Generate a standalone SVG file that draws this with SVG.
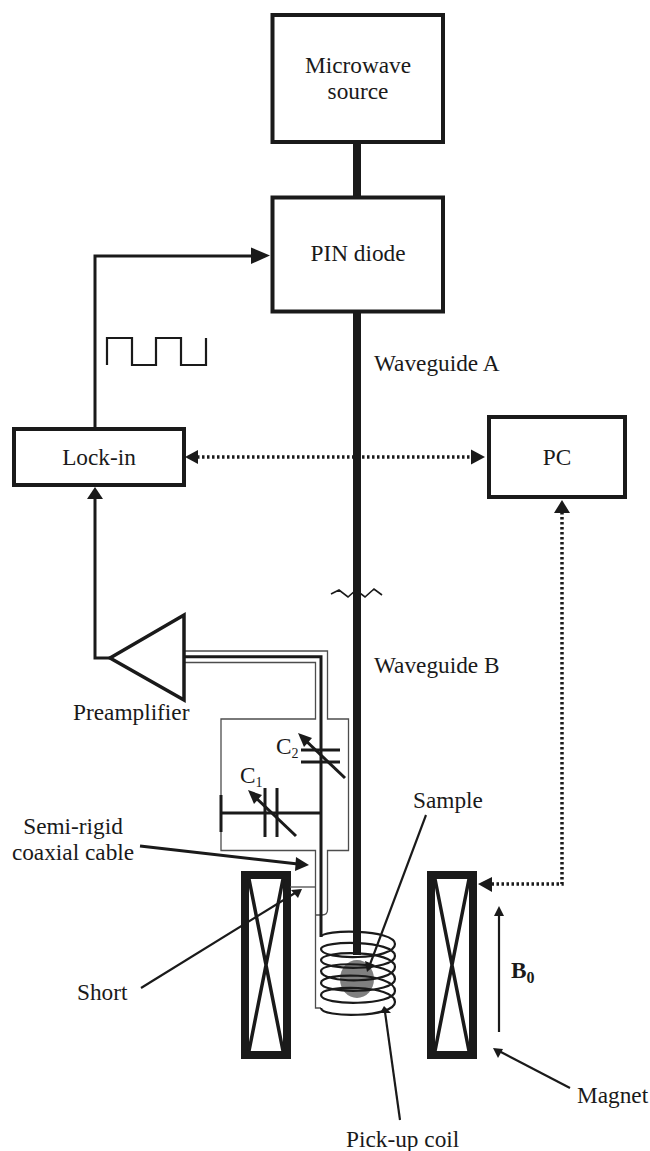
<svg xmlns="http://www.w3.org/2000/svg" width="650" height="1151" viewBox="0 0 650 1151">
<style>
text{font-family:"Liberation Serif","Times New Roman",serif;font-size:23.300px;fill:#1a1a1a}
.m{text-anchor:middle}
.box{fill:#fff;stroke:#1a1a1a;stroke-width:4}
.ln{fill:none;stroke:#1a1a1a;stroke-width:3}
.thin{fill:none;stroke:#4d4d4d;stroke-width:1.300}
.lead{fill:none;stroke:#1a1a1a;stroke-width:2.200}
.dot{fill:none;stroke:#1a1a1a;stroke-width:3.500;stroke-dasharray:2.500 2.500}
.mag{fill:#fff;stroke:#1a1a1a;stroke-width:8}
.x{fill:none;stroke:#1a1a1a;stroke-width:3.500}
.ah{fill:#1a1a1a}
</style>
<g id="magnet-left"><rect class="mag" x="245" y="875" width="42" height="180"/><path class="x" d="M249 879L283 1051M283 879L249 1051"/></g>
<g id="magnet-right"><rect class="mag" x="431" y="875" width="42" height="180"/><path class="x" d="M435 879L469 1051M469 879L435 1051"/></g>
<g id="sample"><ellipse cx="357" cy="979" rx="17" ry="19" fill="#808080"/><text x="413" y="808">Sample</text></g>
<g id="connectors">
<path class="ln" d="M95 428V256H255"/>
<polygon class="ah" points="270,255.500 251,247.500 251,264"/>
<path class="lead" d="M107 365V338H132V365H156V338H181V365H206V338"/>
<path class="ln" d="M95 498V658H110"/>
<polygon class="ah" points="95,487 87,499 103,499"/>
<path d="M357 143V198M357 312V955" fill="none" stroke="#1a1a1a" stroke-width="8"/>
<path fill="none" stroke="#1a1a1a" stroke-width="1.600" d="M331 594L339 590L348 597L356 590L365 597L374 589L382 595"/>
<path class="dot" d="M197 457H472"/>
<polygon class="ah" points="185,457 198,450 198,464"/>
<polygon class="ah" points="485,457 471,449.500 471,464.500"/>
<path class="dot" d="M562 512V884H491"/>
<polygon class="ah" points="562,500 554,513 570,513"/>
<polygon class="ah" points="478,884 492,877 492,892"/>
<path class="thin" d="M184 651H327.500V719H348.500V850.500H327.500V910Q327.500 915 322 915H316"/>
<path class="thin" d="M184 662.500H315.500V719H221V850.500H315.500V1008H321"/>
<path class="thin" d="M290 887H315.500"/>
<path class="ln" d="M184 656.700H321V937"/>
<path class="ln" d="M221 813H321"/>
<path class="ln" d="M221 795V832"/>
<path class="ln" d="M265 788V837M277 788V837"/>
<path class="ln" d="M301 750H340M301 762H340"/>
<path class="ln" stroke-width="2.200" d="M345 778L303 738"/>
<polygon class="ah" points="298,733 312,738 304,747"/>
<path class="ln" stroke-width="2.200" d="M296 836L253 795"/>
<polygon class="ah" points="248,790 262,795 254,804"/>
<path class="ln" stroke-width="2.200" d="M140 846L298 864"/>
<polygon class="ah" points="309,865 296,857 295,871"/>
<path class="lead" d="M141 988L295 893"/>
<polygon class="ah" points="302,889 291,890 298,898"/>
<path class="lead" d="M426 815L369 967"/>
<polygon class="ah" points="367,972 365,961 375,965"/>
<path class="lead" d="M400 1120L385 1012"/>
<polygon class="ah" points="384,1006 380,1013 391,1013"/>
<path class="lead" d="M570 1088L499 1051"/>
<polygon class="ah" points="493,1048 503,1049 498,1058"/>
<path class="lead" d="M499 1032V914"/>
<polygon class="ah" points="499,906 494,916 504,916"/>
</g>
<g id="microwave-source"><rect class="box" x="272.500" y="15" width="170.500" height="127"/><text class="m" x="358" y="73">Microwave</text><text class="m" x="358" y="99">source</text></g>
<g id="pin-diode"><rect class="box" x="272.500" y="197.500" width="170.500" height="114"/><text class="m" x="358" y="261" font-size="21">PIN diode</text></g>
<g id="lock-in"><rect class="box" x="14" y="429" width="170" height="56"/><text class="m" x="99" y="465">Lock-in</text></g>
<g id="pc"><rect class="box" x="489" y="417" width="136" height="80"/><text class="m" x="557" y="465">PC</text></g>
<g id="preamplifier"><polygon fill="#fff" stroke="#1a1a1a" stroke-width="3.500" points="110,658 184,615 184,700"/><text x="73" y="720">Preamplifier</text></g>
<g id="coil"><path class="lead" d="M321 937C321 929 395 929 395 944C395 960.500 321 960.500 321 949C321 940 395 940 395 956C395 971 321 971 321 960C321 950 395 950 395 967C395 984 321 984 321 971C321 961 395 961 395 979C395 994 321 994 321 983C321 972 395 972 395 991C395 1006 321 1006 321 995C321 984.500 395 984.500 395 1002C395 1018 321 1018 321 1008"/></g>
<g id="labels">
<text x="374" y="371">Waveguide A</text>
<text x="374" y="673">Waveguide B</text>
<text x="276" y="754">C<tspan font-size="14" dy="4">2</tspan></text>
<text x="240" y="783">C<tspan font-size="14" dy="4">1</tspan></text>
<text class="m" x="73" y="834">Semi-rigid</text>
<text class="m" x="73" y="860">coaxial cable</text>
<text x="77" y="1000">Short</text>
<text x="511" y="978" font-weight="bold" font-size="26">B<tspan font-size="16" dy="5">0</tspan></text>
<text x="577" y="1103">Magnet</text>
<text x="346" y="1147">Pick-up coil</text>
</g>
</svg>
